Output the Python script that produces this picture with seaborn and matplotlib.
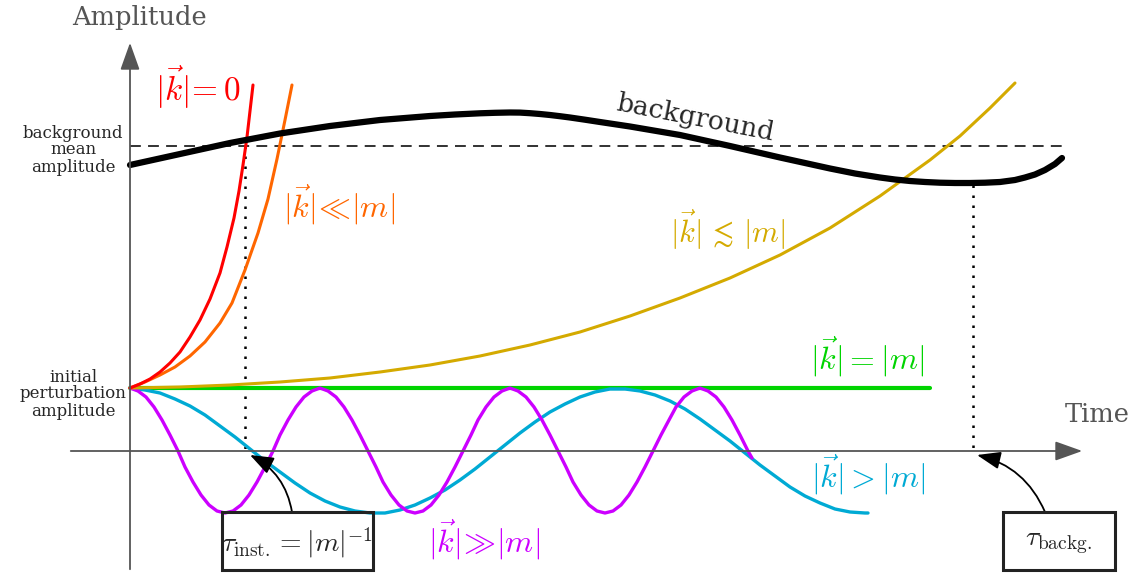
import matplotlib
matplotlib.use("Agg")
import matplotlib.pyplot as plt
from matplotlib.patches import Rectangle
import seaborn as sns

# time in arbitrary units, amplitude in arbitrary units
t_red = [0, 0.1, 0.2, 0.3, 0.4, 0.5, 0.6, 0.7, 0.8, 0.9, 0.97, 1.04, 1.09, 1.13, 1.17, 1.20, 1.23]
a_red = [0.63, 0.67, 0.72, 0.79, 0.88, 0.99, 1.14, 1.31, 1.52, 1.78, 2.04, 2.33, 2.60, 2.86, 3.14, 3.40, 3.66]

t_orange = [0, 0.15, 0.3, 0.45, 0.6, 0.75, 0.9, 1.02, 1.15, 1.28, 1.38, 1.47, 1.55, 1.62]
a_orange = [0.63, 0.69, 0.76, 0.84, 0.95, 1.09, 1.28, 1.48, 1.81, 2.18, 2.52, 2.92, 3.31, 3.66]

t_gold = [0, 0.5, 1.0, 1.5, 2.0, 2.5, 3.0, 3.5, 4.0, 4.5, 5.0, 5.5, 6.0, 6.5, 7.0, 7.5,
          8.0, 8.3, 8.6, 8.85]
a_gold = [0.63, 0.64, 0.66, 0.69, 0.73, 0.79, 0.86, 0.95, 1.06, 1.19, 1.35, 1.53, 1.73,
          1.96, 2.23, 2.55, 2.91, 3.15, 3.43, 3.68]

t_green = [0, 8.0]
a_green = [0.63, 0.63]

t_cyan = [0, 0.15, 0.3, 0.45, 0.6, 0.75, 0.9, 1.05, 1.2, 1.35, 1.5, 1.65, 1.8, 1.95,
          2.1, 2.25, 2.4, 2.55, 2.7, 2.85, 3.0, 3.15, 3.3, 3.45, 3.6, 3.75, 3.9, 4.05,
          4.2, 4.35, 4.5, 4.65, 4.8, 4.95, 5.1, 5.25, 5.4, 5.55, 5.7, 5.85, 6.0, 6.15,
          6.3, 6.45, 6.6, 6.75, 6.9, 7.05, 7.2, 7.35, 7.38]
a_cyan = [0.63, 0.61, 0.58, 0.52, 0.45, 0.36, 0.25, 0.14, 0.02, -0.10, -0.21, -0.32,
          -0.42, -0.50, -0.56, -0.60, -0.62, -0.62, -0.59, -0.54, -0.47, -0.39, -0.29,
          -0.18, -0.06, 0.06, 0.18, 0.29, 0.39, 0.47, 0.54, 0.59, 0.62, 0.62, 0.60,
          0.56, 0.50, 0.42, 0.32, 0.21, 0.10, -0.02, -0.14, -0.25, -0.36, -0.45, -0.52,
          -0.58, -0.61, -0.62, -0.62]

t_magenta = [0.00, 0.08, 0.16, 0.24, 0.32, 0.40, 0.48, 0.55, 0.63, 0.71, 0.79, 0.87,
             0.95, 1.03, 1.11, 1.19, 1.27, 1.35, 1.43, 1.50, 1.58, 1.66, 1.74, 1.82,
             1.90, 1.98, 2.06, 2.14, 2.22, 2.30, 2.38, 2.46, 2.53, 2.61, 2.69, 2.77,
             2.85, 2.93, 3.01, 3.09, 3.17, 3.25, 3.33, 3.41, 3.48, 3.56, 3.64, 3.72,
             3.80, 3.88, 3.96, 4.04, 4.12, 4.20, 4.28, 4.36, 4.43, 4.51, 4.59, 4.67,
             4.75, 4.83, 4.91, 4.99, 5.07, 5.15, 5.23, 5.31, 5.39, 5.46, 5.54, 5.62,
             5.70, 5.78, 5.86, 5.94, 6.02, 6.10, 6.18, 6.22]
a_magenta = [0.63, 0.60, 0.54, 0.44, 0.31, 0.16, 0.00, -0.16, -0.31, -0.44, -0.54, -0.60,
             -0.62, -0.60, -0.54, -0.44, -0.31, -0.16, 0.00, 0.16, 0.31, 0.44, 0.54, 0.60,
             0.63, 0.60, 0.54, 0.44, 0.31, 0.16, 0.00, -0.16, -0.31, -0.44, -0.54, -0.60,
             -0.62, -0.60, -0.54, -0.44, -0.31, -0.16, 0.00, 0.16, 0.31, 0.44, 0.54, 0.60,
             0.63, 0.60, 0.54, 0.44, 0.31, 0.16, 0.00, -0.16, -0.31, -0.44, -0.54, -0.60,
             -0.62, -0.60, -0.54, -0.44, -0.31, -0.16, 0.00, 0.16, 0.31, 0.44, 0.54, 0.60,
             0.63, 0.60, 0.54, 0.44, 0.31, 0.16, 0.00, -0.07]

t_bg = [0, 0.5, 1.0, 1.5, 2.0, 2.5, 3.0, 3.25, 3.5, 3.65, 3.8, 3.9, 4.0, 4.1, 4.2, 4.3,
        4.4, 4.55, 4.7, 5.0, 5.5, 6.0, 6.5, 7.0, 7.25, 7.5, 7.65, 7.8, 7.95, 8.1, 8.25,
        8.4, 8.55, 8.7, 8.85, 8.95, 9.05, 9.15, 9.25, 9.32]
a_bg = [2.86, 2.97, 3.08, 3.175, 3.25, 3.31, 3.35, 3.365, 3.377, 3.382, 3.385, 3.384,
        3.378, 3.37, 3.36, 3.348, 3.335, 3.313, 3.29, 3.245, 3.16, 3.05, 2.935, 2.825,
        2.775, 2.735, 2.715, 2.70, 2.69, 2.683, 2.68, 2.68, 2.683, 2.69, 2.71, 2.735,
        2.765, 2.81, 2.87, 2.93]

bg_mean = 3.05
t_inst = 1.15
t_backg = 8.43

sns.set_theme(style="white")
plt.rcParams["mathtext.fontset"] = "cm"
plt.rcParams["font.family"] = ["DejaVu Serif"]

fig = plt.figure(figsize=(11.39, 5.77), dpi=100)
ax = fig.add_axes([0, 0, 1, 1])
ax.set_xlim(-1.30, 10.09)
ax.set_ylim(-1.26, 4.51)
ax.axis("off")

grey = "#555555"
# axes arrows
ax.annotate("", xy=(0, 4.11), xytext=(0, -1.21),
            arrowprops=dict(arrowstyle="-|>,head_length=1.4,head_width=0.5", color=grey, lw=1.3))
ax.annotate("", xy=(9.55, 0), xytext=(-0.62, 0),
            arrowprops=dict(arrowstyle="-|>,head_length=1.4,head_width=0.5", color=grey, lw=1.3))

# mean background level and time scales
ax.plot([0, 9.35], [bg_mean, bg_mean], color="#222222", lw=1.3, ls=(0, (6, 4)))
ax.plot([t_inst, t_inst], [bg_mean, 0], color="black", lw=1.8, ls=(0, (1, 3)))
ax.plot([t_backg, t_backg], [2.66, 0], color="black", lw=1.8, ls=(0, (1, 3)))

curves = [
    (t_green, a_green, "#00d400", 3.0),
    (t_cyan, a_cyan, "#00aad4", 2.4),
    (t_magenta, a_magenta, "#cc00ff", 2.4),
    (t_gold, a_gold, "#d4aa00", 2.2),
    (t_orange, a_orange, "#ff6600", 2.2),
    (t_red, a_red, "#ff0000", 2.2),
    (t_bg, a_bg, "black", 4.5),
]
for tx, ay, c, w in curves:
    sns.lineplot(x=tx, y=ay, color=c, lw=w, ax=ax, estimator=None, sort=False)

# labels
ax.text(0.10, 4.33, "Amplitude", color=grey, fontsize=18.5, ha="center", va="center")
ax.text(9.67, 0.36, "Time", color=grey, fontsize=18.5, ha="center", va="center")
ax.text(-0.57, 3.01, "background\nmean\namplitude", fontsize=12, ha="center",
        va="center", linespacing=1.0)
ax.text(-0.57, 0.57, "initial\nperturbation\namplitude", fontsize=12, ha="center",
        va="center", linespacing=1.0)
ax.text(5.65, 3.33, "background", fontsize=19, ha="center", va="center",
        rotation=-11, rotation_mode="anchor")

ax.text(0.68, 3.64, r"$|\vec{k}|\!= 0$", color="#ff0000", fontsize=24, ha="center", va="center")
ax.text(2.09, 2.46, r"$|\vec{k}|\!\ll\!|m|$", color="#ff6600", fontsize=23, ha="center", va="center")
ax.text(5.98, 2.21, r"$|\vec{k}|\,\lesssim\,|m|$", color="#d4aa00", fontsize=22, ha="center", va="center")
ax.text(7.37, 0.94, r"$|\vec{k}|=|m|$", color="#00d400", fontsize=23, ha="center", va="center")
ax.text(7.38, -0.24, r"$|\vec{k}|>|m|$", color="#00aad4", fontsize=23, ha="center", va="center")
ax.text(3.54, -0.89, r"$|\vec{k}|\!\gg\!|m|$", color="#cc00ff", fontsize=23, ha="center", va="center")

# boxed time scales
ax.add_patch(Rectangle((0.92, -1.19), 1.51, 0.58, fill=False, ec="#222222", lw=2.2, zorder=5))
ax.add_patch(Rectangle((8.73, -1.19), 1.12, 0.58, fill=False, ec="#222222", lw=2.2, zorder=5))
ax.text(1.67, -0.92, r"$\tau_{\rm inst.}=|m|^{-1}$", fontsize=20, ha="center", va="center")
ax.text(9.29, -0.92, r"$\tau_{\rm backg.}$", fontsize=20, ha="center", va="center")

ax.annotate("", xy=(1.20, -0.04), xytext=(1.62, -0.61),
            arrowprops=dict(arrowstyle="-|>,head_length=1.2,head_width=0.45", color="black",
                            lw=1.3, connectionstyle="arc3,rad=0.25", shrinkA=0, shrinkB=0))
ax.annotate("", xy=(8.47, -0.04), xytext=(9.15, -0.61),
            arrowprops=dict(arrowstyle="-|>,head_length=1.2,head_width=0.45", color="black",
                            lw=1.3, connectionstyle="arc3,rad=0.25", shrinkA=0, shrinkB=0))

fig.savefig("out.png", dpi=100)
